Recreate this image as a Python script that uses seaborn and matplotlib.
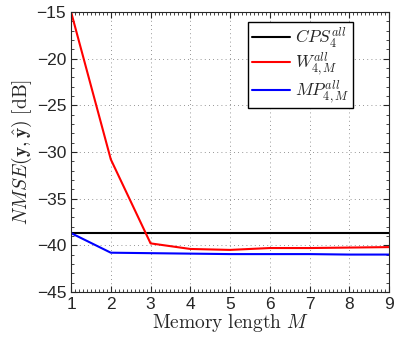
import matplotlib
matplotlib.use("Agg")
import matplotlib.pyplot as plt
import seaborn as sns
import pandas as pd
from matplotlib.ticker import AutoMinorLocator, MultipleLocator

memory = [1, 2, 3, 4, 5, 6, 7, 8, 9]
cps = [-38.7] * 9
w_vals = [-15.0, -30.8, -39.8, -40.4, -40.5, -40.3, -40.3, -40.25, -40.2]
mp_vals = [-38.7, -40.8, -40.85, -40.9, -40.95, -40.95, -40.95, -41.0, -41.0]
labels = [r'$CPS_4^{all}$', r'$W_{4,M}^{all}$', r'$MP_{4,M}^{all}$']
colors = ['black', 'red', 'blue']

sns.set_style('ticks')
plt.rcParams['font.family'] = ['Liberation Sans', 'DejaVu Sans']
plt.rcParams['mathtext.fontset'] = 'cm'

df = pd.DataFrame({
    'M': memory * 3,
    'NMSE': cps + w_vals + mp_vals,
    'series': [labels[0]] * 9 + [labels[1]] * 9 + [labels[2]] * 9,
})

fig = plt.figure(figsize=(3.97, 3.41), dpi=100)
ax = fig.add_axes([0.179, 0.144, 0.801, 0.821])
sns.lineplot(data=df, x='M', y='NMSE', hue='series', palette=colors,
             hue_order=labels, ax=ax, linewidth=1.5)

ax.set_xlim(1, 9)
ax.set_ylim(-45, -15)
ax.xaxis.set_major_locator(MultipleLocator(1))
ax.yaxis.set_major_locator(MultipleLocator(5))
ax.xaxis.set_minor_locator(AutoMinorLocator(10))
ax.yaxis.set_minor_locator(AutoMinorLocator(5))
ax.tick_params(which='both', direction='in', top=True, right=True, labelsize=12.5)
ax.tick_params(which='major', length=4)
ax.tick_params(which='minor', length=2)
ax.grid(True, which='major', linestyle=(0, (1, 4)), color='0.45', linewidth=0.6)
ax.set_yticklabels([f'\u2212{abs(int(v))}' for v in ax.get_yticks()])

ax.set_xlabel(r'$\mathrm{Memory\ length}\ M$', fontsize=14, labelpad=0)
ax.set_ylabel(r'$NMSE(\mathbf{y},\hat{\mathbf{y}})\ \mathrm{[dB]}$', fontsize=14, labelpad=2)

leg = ax.legend(loc='upper right', bbox_to_anchor=(0.887, 0.964), fontsize=12.5,
                frameon=True, fancybox=False, edgecolor='black', framealpha=1,
                handlelength=2.2, borderpad=0.2, labelspacing=0.05, handletextpad=0.3,
                borderaxespad=0)
leg.get_frame().set_linewidth(1.0)
for s in ax.spines.values():
    s.set_linewidth(0.8)

fig.savefig('out.png', dpi=100)
